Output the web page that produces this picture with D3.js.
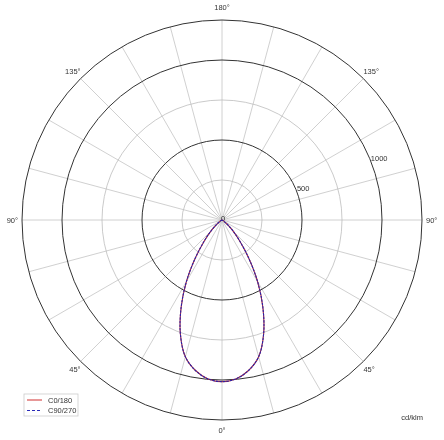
<!DOCTYPE html>
<html>
<head>
<meta charset="utf-8">
<script src="https://cdn.jsdelivr.net/npm/d3@7"></script>
<style>
  body { margin: 0; background: #fff; }
  svg { display: block; font-family: "Liberation Sans", Arial, sans-serif; will-change: transform; }
</style>
</head>
<body>
<svg id="chart" width="444" height="440"></svg>
<script>
// intensity distribution, cd/klm, gamma 0..90 (upper half is zero)
const gammas = [0, 5, 10, 15, 20, 25, 30, 35, 40, 45, 50, 55, 60, 65, 70, 75, 80, 85, 90];
const c0_180 = [1010, 997, 955, 885, 760, 605, 445, 292, 175, 100, 50, 20, 8, 3, 1, 0, 0, 0, 0];
const c90_270 = [1010, 997, 955, 885, 760, 605, 445, 292, 175, 100, 50, 20, 8, 3, 1, 0, 0, 0, 0];

const ringValues = [250, 500, 750, 1000, 1250];
const majorRings = [500, 1000, 1250];
const ringLabels = [500, 1000];
const angleLabels = [0, 45, 90, 135, 180];
const seriesNames = ["C0/180", "C90/270"];

const svg = d3.select("#chart");
const cx = 222, cy = 220;
const r = d3.scaleLinear().domain([0, 1250]).range([0, 200]);
const rad = d => d * Math.PI / 180;

const g = svg.append("g").attr("transform", `translate(${cx},${cy})`);

// spokes every 15 degrees
g.selectAll("line.spoke")
  .data(d3.range(0, 360, 15))
  .enter()
  .append("line")
  .attr("x1", 0).attr("y1", 0)
  .attr("x2", d => r(1250) * Math.sin(rad(d)))
  .attr("y2", d => r(1250) * Math.cos(rad(d)))
  .attr("stroke", "#c4c4c4")
  .attr("stroke-width", 0.8);

// rings
g.selectAll("circle.ring")
  .data(ringValues)
  .enter()
  .append("circle")
  .attr("r", d => r(d))
  .attr("fill", "none")
  .attr("stroke", d => majorRings.includes(d) ? "#333" : "#bdbdbd")
  .attr("stroke-width", d => majorRings.includes(d) ? 1 : 0.8);

// ring labels along a ray 22.5 deg above horizontal
const lblAng = rad(22.5);
g.selectAll("text.ringlbl")
  .data(ringLabels)
  .enter()
  .append("text")
  .attr("x", d => r(d) * Math.cos(lblAng) + 1)
  .attr("y", d => -r(d) * Math.sin(lblAng) + 2)
  .attr("font-size", 7.5)
  .attr("fill", "#333")
  .text(d => d);

g.append("text")
  .attr("x", 1).attr("y", 1)
  .attr("text-anchor", "middle")
  .attr("font-size", 7.5)
  .attr("fill", "#333")
  .text("0");

// angle labels, both sides
const outer = r(1250);
const angLabelData = [];
angleLabels.forEach(a => {
  angLabelData.push({ a: a, side: 1 });
  if (a !== 0 && a !== 180) angLabelData.push({ a: a, side: -1 });
});
g.selectAll("text.anglbl")
  .data(angLabelData)
  .enter()
  .append("text")
  .attr("x", d => {
    const x = d.side * outer * Math.sin(rad(d.a));
    if (d.a === 90) return x + d.side * 4;
    return x;
  })
  .attr("y", d => {
    const y = outer * Math.cos(rad(d.a));
    if (d.a === 0) return y + 13;
    if (d.a === 180) return y - 10;
    if (d.a === 90) return y + 3;
    return d.a < 90 ? y + 11 : y - 5;
  })
  .attr("text-anchor", d => (d.a === 0 || d.a === 180) ? "middle" : (d.side > 0 ? "start" : "end"))
  .attr("font-size", 7.5)
  .attr("fill", "#333")
  .text(d => d.a + "°");

// curves: gamma measured from straight down, mirrored to both halves
function curvePoints(vals) {
  const pts = [];
  for (let i = gammas.length - 1; i >= 0; i--) pts.push([Math.PI + rad(gammas[i]), r(vals[i])]);
  for (let i = 1; i < gammas.length; i++) pts.push([Math.PI - rad(gammas[i]), r(vals[i])]);
  return pts;
}
const line = d3.lineRadial()
  .angle(d => d[0])
  .radius(d => d[1])
  .curve(d3.curveCatmullRom);

g.append("path")
  .attr("d", line(curvePoints(c0_180)))
  .attr("fill", "none")
  .attr("stroke", "#b02a3a")
  .attr("stroke-width", 1.1);

g.append("path")
  .attr("d", line(curvePoints(c90_270)))
  .attr("fill", "none")
  .attr("stroke", "#2a22a8")
  .attr("stroke-width", 1.1)
  .attr("stroke-dasharray", "2.5,1");

// legend
const lg = svg.append("g").attr("transform", "translate(24,394)");
lg.append("rect")
  .attr("width", 54).attr("height", 22)
  .attr("fill", "#fff")
  .attr("stroke", "#ccc")
  .attr("stroke-width", 0.8);
const styles = [
  { color: "#d03030", dash: null },
  { color: "#2a2ab8", dash: "3,2" }
];
seriesNames.forEach((name, i) => {
  const y = 6 + i * 10.5;
  lg.append("line")
    .attr("x1", 3).attr("x2", 18)
    .attr("y1", y).attr("y2", y)
    .attr("stroke", styles[i].color)
    .attr("stroke-width", 1)
    .attr("stroke-dasharray", styles[i].dash);
  lg.append("text")
    .attr("x", 24).attr("y", y + 2.7)
    .attr("font-size", 7.5)
    .attr("fill", "#333")
    .text(name);
});

svg.append("text")
  .attr("x", 423).attr("y", 420)
  .attr("text-anchor", "end")
  .attr("font-size", 7.5)
  .attr("fill", "#333")
  .text("cd/klm");
</script>
</body>
</html>
